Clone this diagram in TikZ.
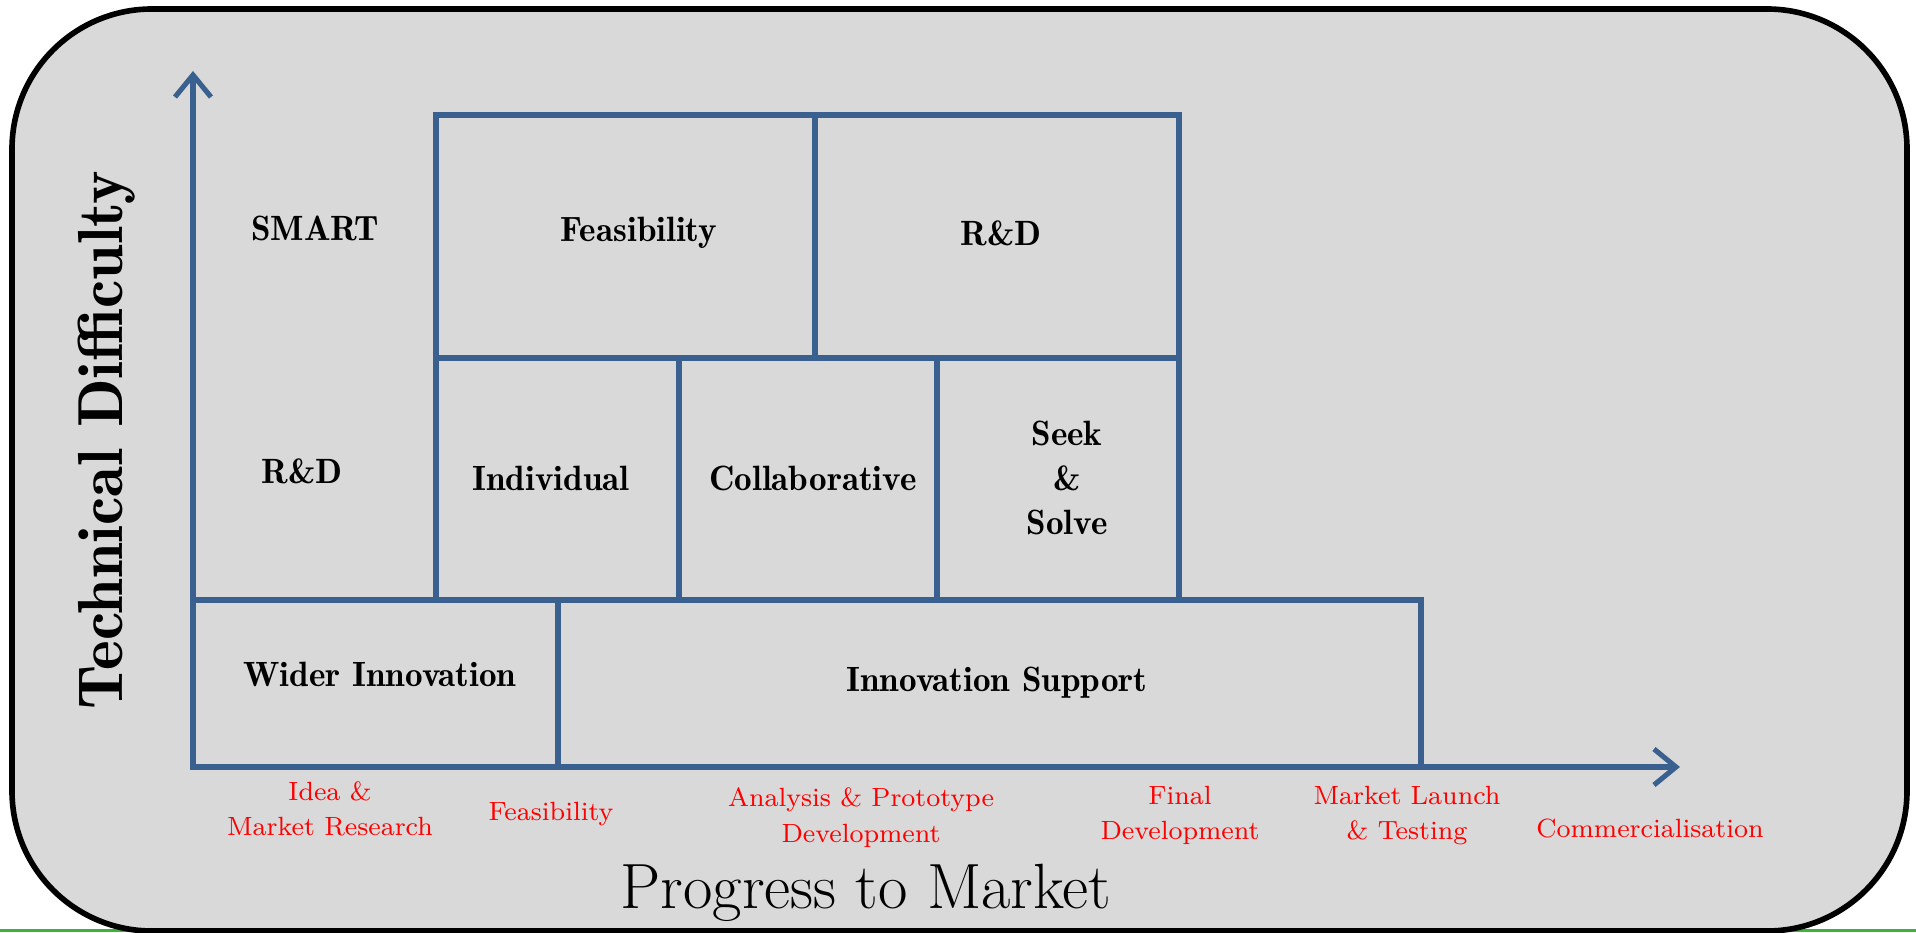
\documentclass[tikz,border=0pt]{standalone}
\usepackage{xcolor}
\usepackage{tikz}
\usetikzlibrary{arrows.meta}
\definecolor{chartblue}{RGB}{58,96,143}
\definecolor{panelgrey}{RGB}{217,217,217}
\definecolor{stagered}{RGB}{255,0,0}
\definecolor{edgegreen}{RGB}{60,180,60}

\begin{document}
\begin{tikzpicture}[
		grid line/.style={draw=chartblue, line width=1.45pt},
		cell text/.style={anchor=base, align=center, font=\fontsize{10}{12.8}\fontseries{b}\selectfont},
		stage text/.style={anchor=base, align=center, text=stagered, font=\fontsize{7.5}{10}\selectfont},
		axis text/.style={anchor=base, font=\fontsize{18.2}{20}\selectfont}]
		\useasboundingbox (0, 0) rectangle (19.16, 9.32);
		% Panel, axes and cells:
		\draw[edgegreen, line width=0.85pt] (0, 0.015) -- (19.16, 0.015);
		\draw[fill=panelgrey, line width=1.6pt, rounded corners=1.4cm] (0.12, 0.01) rectangle (19.07, 9.23);
		\draw[grid line] (4.36, 8.17) rectangle (11.79, 5.74);
		\draw[grid line] (8.15, 8.17) -- (8.15, 5.74);
		\draw[grid line] (4.36, 5.74) -- (4.36, 3.32);
		\draw[grid line] (11.79, 5.74) -- (11.79, 3.32);
		\draw[grid line] (6.79, 5.74) -- (6.79, 3.32);
		\draw[grid line] (9.37, 5.74) -- (9.37, 3.32);
		\draw[grid line] (1.93, 3.32) -- (14.21, 3.32) -- (14.21, 1.65);
		\draw[grid line] (5.58, 3.32) -- (5.58, 1.65);
		\draw[grid line, {Straight Barb[length=2.2mm, width=3.6mm]}-{Straight Barb[length=2.2mm, width=3.6mm]}] (1.93, 8.61) -- (1.93, 1.65) -- (16.80, 1.65);
		\node[cell text](N1) at (3.15, 6.91){SMART};
		\node[cell text](N2) at (6.39, 6.90){Feasibility};
		\node[cell text](N3) at (10.01, 6.86){R\&D};
		\node[cell text](N4) at (3.02, 4.48){R\&D};
		\node[cell text](N5) at (5.51, 4.41){Individual};
		\node[cell text](N6) at (8.13, 4.41){Collaborative};
		\node[cell text](N7) at (10.67, 3.97){Seek\\\&\\Solve};
		\node[cell text](N8) at (3.80, 2.45){Wider Innovation};
		\node[cell text](N9) at (9.97, 2.40){Innovation Support};
		\node[stage text](S1) at (3.30, 0.96){Idea \&\\Market Research};
		\node[stage text](S2) at (5.51, 1.12){Feasibility};
		\node[stage text](S3) at (8.61, 0.90){Analysis \& Prototype\\Development};
		\node[stage text](S4) at (11.80, 0.92){Final\\Development};
		\node[stage text](S5) at (14.07, 0.92){Market Launch\\\& Testing};
		\node[stage text](S6) at (16.50, 0.95){Commercialisation};
		\node[axis text](A1) at (8.66, 0.24){Progress to Market};
		\node[axis text, rotate=90, font=\fontsize{18.1}{20}\fontseries{b}\selectfont](A2) at (1.22, 4.92){Technical Difficulty};
	\end{tikzpicture}
\end{document}
